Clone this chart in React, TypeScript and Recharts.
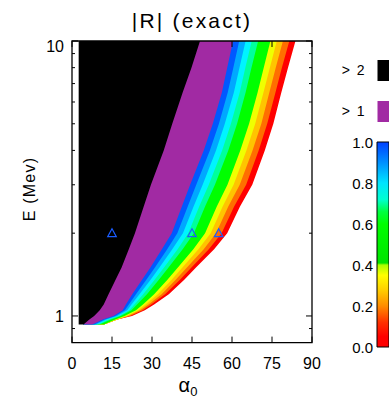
import React from 'react';
import { ComposedChart, Area, XAxis, YAxis, Scatter, ReferenceArea, BarChart, Bar } from 'recharts';

// Energy rows (MeV) at which contour positions were read
const energy = [0.93, 0.97, 1.0, 1.05, 1.1, 1.2, 1.35, 1.5, 1.75, 2.0, 2.5, 3.0, 4.0, 5.0, 6.5, 8.0, 10];
// pitch angle (deg) where |R| crosses each level, per energy row
const alphaR2 = [4.3, 6.5, 8.3, 10.4, 11.9, 13.7, 16.3, 18.6, 21.3, 23.6, 26.9, 29.6, 34.4, 37.6, 41.5, 44.8, 48.0];
const alphaR1 = [7.6, 11.5, 15.5, 19.0, 20.2, 22.6, 26.2, 29.4, 33.7, 37.4, 41.2, 44.3, 49.4, 52.8, 56.2, 58.2, 60.4];
const alphaR09 = [8.3, 12.2, 16.2, 19.8, 21.3, 24.0, 27.8, 31.1, 35.7, 39.5, 43.4, 46.6, 51.7, 55.1, 58.4, 60.5, 62.7];
const alphaR08 = [9.0, 12.9, 16.9, 20.7, 22.3, 25.3, 29.4, 32.8, 37.6, 41.6, 45.6, 49.0, 54.0, 57.3, 60.7, 62.8, 65.1];
const alphaR07 = [9.6, 13.8, 17.6, 21.5, 23.4, 26.7, 30.9, 34.5, 39.6, 43.6, 47.7, 51.3, 56.3, 59.6, 62.9, 65.0, 67.4];
const alphaR06 = [10.3, 14.6, 18.3, 22.3, 24.4, 28.1, 32.5, 36.2, 41.5, 45.7, 49.9, 53.6, 58.6, 61.9, 65.1, 67.3, 69.8];
const alphaR04 = [12.0, 16.2, 19.7, 24.0, 26.6, 30.8, 35.7, 39.7, 45.5, 49.9, 54.3, 58.3, 63.1, 66.4, 69.6, 71.9, 74.4];
const alphaR03 = [12.0, 17.0, 20.4, 24.8, 27.6, 32.2, 37.3, 41.4, 47.4, 52.0, 56.5, 60.6, 65.4, 68.7, 71.8, 74.2, 76.8];
const alphaR02 = [12.0, 17.0, 21.1, 25.6, 28.7, 33.6, 38.8, 43.1, 49.4, 54.0, 58.6, 62.9, 67.7, 71.0, 74.0, 76.4, 79.1];
const alphaR01 = [12.0, 17.0, 21.8, 26.5, 29.7, 34.9, 40.4, 44.8, 51.3, 56.1, 60.8, 65.3, 70.0, 73.2, 76.3, 78.7, 81.5];
const alphaR0 = [12.0, 17.0, 22.5, 27.3, 30.8, 36.3, 42.0, 46.5, 53.3, 58.2, 63.0, 67.6, 72.3, 75.5, 78.5, 81.0, 83.8];
const alphaStart = 2.5;
const energyTop = 10;

// marked points
const markerAlpha = [15, 45, 55];
const markerEnergy = [2, 2, 2];

// ticks
const xTicks = [0, 15, 30, 45, 60, 75, 90];
const yMajorTicks = [1, 10];
const yMinorTicks = [0.9, 2, 3, 4, 5, 6, 7, 8, 9];
const colorbarTicks = [0, 0.2, 0.4, 0.6, 0.8, 1.0];
const legendLabels = ['> 2', '> 1'];
const legendColors = ['#000000', '#a12aa3'];

const FONT = '"Liberation Sans", Arial, Helvetica, sans-serif';

// contour regions, widest first so narrower ones are painted over them
const regions = [
  { key: 'r0', alpha: alphaR0, color: '#ff0000' },
  { key: 'r01', alpha: alphaR01, color: '#ff6e00' },
  { key: 'r02', alpha: alphaR02, color: '#ffc400' },
  { key: 'r03', alpha: alphaR03, color: '#f0ff00' },
  { key: 'r04', alpha: alphaR04, color: '#00ff00' },
  { key: 'r06', alpha: alphaR06, color: '#00ff9c' },
  { key: 'r07', alpha: alphaR07, color: '#00f4ff' },
  { key: 'r08', alpha: alphaR08, color: '#00a8ff' },
  { key: 'r09', alpha: alphaR09, color: '#0058ff' },
  { key: 'r1', alpha: alphaR1, color: '#a12aa3' },
  { key: 'r2', alpha: alphaR2, color: '#000000' },
];

// only the outermost-left (black) region starts at alphaStart; the others start
// under the black region so their left edges stay hidden
const regionData = regions.map((r) => [
  { a: r.key === 'r2' ? alphaStart : alphaR2[0], E: energy[0] },
  ...energy.map((E, i) => ({ a: r.alpha[i], E })),
]);

const markers = markerAlpha.map((a, i) => ({ a, E: markerEnergy[i] }));

const yTicks = [...yMinorTicks, ...yMajorTicks].sort((a, b) => a - b);

const BottomTick = (p: any) => {
  const { x, y, payload } = p;
  return (
    <g>
      <line x1={x} x2={x} y1={y} y2={y - 6} stroke="#000" strokeWidth={1} />
      <text x={x} y={y + 26} textAnchor="middle" fontSize={16} fontFamily={FONT} fill="#000">
        {payload.value}
      </text>
    </g>
  );
};

const TopTick = (p: any) => {
  const { x, y } = p;
  return <line x1={x} x2={x} y1={y} y2={y + 6} stroke="#000" strokeWidth={1} />;
};

const LeftTick = (p: any) => {
  const { x, y, payload } = p;
  const major = yMajorTicks.includes(payload.value);
  return (
    <g>
      <line x1={x} x2={x + (major ? 6 : 3)} y1={y} y2={y} stroke="#000" strokeWidth={1} />
      {major && (
        <text
          x={x - 8}
          y={payload.value === 10 ? y + 11 : y + 6}
          textAnchor="end"
          fontSize={16}
          fontFamily={FONT}
          fill="#000"
        >
          {payload.value}
        </text>
      )}
    </g>
  );
};

const RightTick = (p: any) => {
  const { x, y, payload } = p;
  const major = yMajorTicks.includes(payload.value);
  return <line x1={x} x2={x - (major ? 6 : 3)} y1={y} y2={y} stroke="#000" strokeWidth={1} />;
};

const Triangle = (p: any) => {
  const { cx, cy } = p;
  if (cx == null || cy == null) return null;
  return (
    <path
      d={`M${cx},${cy - 4.5} L${cx + 4.3},${cy + 3.5} L${cx - 4.3},${cy + 3.5} Z`}
      fill="none"
      stroke="#1a5cff"
      strokeWidth={1.2}
    />
  );
};

const CbTick = (p: any) => {
  const { x, y, payload } = p;
  return (
    <text x={x - 4} y={y + 5.5} textAnchor="end" fontSize={15} fontFamily={FONT} fill="#000">
      {Number(payload.value).toFixed(1)}
    </text>
  );
};

const cbStops = [
  { o: 0, c: '#0040ff' },
  { o: 0.1, c: '#0090ff' },
  { o: 0.2, c: '#00e4ff' },
  { o: 0.28, c: '#00ffd0' },
  { o: 0.34, c: '#00ff40' },
  { o: 0.4, c: '#00ff00' },
  { o: 0.59, c: '#00e400' },
  { o: 0.6, c: '#a8ff00' },
  { o: 0.65, c: '#ffff00' },
  { o: 0.72, c: '#ffd000' },
  { o: 0.8, c: '#ff8c00' },
  { o: 0.88, c: '#ff3000' },
  { o: 0.95, c: '#ff0000' },
  { o: 1, c: '#ff0000' },
];

export default function App() {
  return (
    <div style={{ position: 'absolute', left: 0, top: 0, width: 389, height: 398, overflow: 'hidden', background: '#fff' }}>
      <div style={{ position: 'absolute', left: 0, top: 0 }}>
        <ComposedChart
          width={389}
          height={398}
          margin={{ top: 40, right: 76, bottom: 54.4, left: 71 }}
          style={{ fontFamily: FONT }}
        >
          <XAxis
            xAxisId="b"
            type="number"
            dataKey="a"
            domain={[0, 90]}
            ticks={xTicks}
            interval={0}
            allowDataOverflow
            axisLine={false}
            tickLine={false}
            tickSize={0}
            tickMargin={0}
            height={1}
            tick={<BottomTick />}
          />
          <XAxis
            xAxisId="t"
            orientation="top"
            type="number"
            dataKey="a"
            domain={[0, 90]}
            ticks={xTicks}
            interval={0}
            allowDataOverflow
            axisLine={false}
            tickLine={false}
            tickSize={0}
            tickMargin={0}
            height={1}
            tick={<TopTick />}
          />
          <YAxis
            yAxisId="l"
            type="number"
            dataKey="E"
            scale="log"
            domain={[0.8, 10]}
            ticks={yTicks}
            interval={0}
            allowDataOverflow
            axisLine={false}
            tickLine={false}
            tickSize={0}
            tickMargin={0}
            width={1}
            tick={<LeftTick />}
          />
          <YAxis
            yAxisId="r"
            orientation="right"
            type="number"
            dataKey="E"
            scale="log"
            domain={[0.8, 10]}
            ticks={yTicks}
            interval={0}
            allowDataOverflow
            axisLine={false}
            tickLine={false}
            tickSize={0}
            tickMargin={0}
            width={1}
            tick={<RightTick />}
          />
          {regions.map((r, i) => (
            <Area
              key={r.key}
              xAxisId="b"
              yAxisId="l"
              data={regionData[i]}
              dataKey="E"
              type="linear"
              stroke="none"
              fill={r.color}
              fillOpacity={1}
              baseValue={energyTop}
              isAnimationActive={false}
              dot={false}
              activeDot={false}
            />
          ))}
          <Scatter
            xAxisId="b"
            yAxisId="l"
            data={markers}
            dataKey="E"
            shape={<Triangle />}
            isAnimationActive={false}
          />
          <ReferenceArea
            xAxisId="b"
            yAxisId="l"
            x1={0}
            x2={90}
            y1={0.8}
            y2={10}
            fill="none"
            fillOpacity={0}
            stroke="#000"
            strokeWidth={1.3}
            ifOverflow="visible"
          />
        </ComposedChart>
      </div>
      <div style={{ position: 'absolute', left: 330, top: 0 }}>
        <BarChart
          width={59}
          height={398}
          data={[{ name: 'cb', v: 1 }]}
          margin={{ top: 142, right: 0, bottom: 51, left: 0 }}
          barCategoryGap={0}
        >
          <defs>
            <linearGradient id="cbGrad" x1="0" y1="0" x2="0" y2="1">
              {cbStops.map((s) => (
                <stop key={s.o} offset={s.o} stopColor={s.c} />
              ))}
            </linearGradient>
          </defs>
          <XAxis dataKey="name" hide />
          <YAxis
            type="number"
            domain={[0, 1]}
            ticks={colorbarTicks}
            interval={0}
            width={47}
            axisLine={false}
            tickLine={false}
            tickSize={0}
            tickMargin={0}
            tick={<CbTick />}
          />
          <Bar dataKey="v" fill="url(#cbGrad)" stroke="#000" strokeWidth={1} isAnimationActive={false} />
        </BarChart>
      </div>
      <svg width={389} height={398} style={{ position: 'absolute', left: 0, top: 0, pointerEvents: 'none' }}>
        <text x={192} y={28} textAnchor="middle" fontSize={21} letterSpacing={2.2} fontFamily={FONT} fill="#000">
          |R| (exact)
        </text>
        <text
          x={0}
          y={0}
          transform="translate(35,189) rotate(-90)"
          textAnchor="middle"
          fontSize={16}
          letterSpacing={1.2}
          fontFamily={FONT}
          fill="#000"
        >
          E (Mev)
        </text>
        <text x={188} y={392} textAnchor="middle" fontSize={20} fontFamily={FONT} fill="#000">
          α<tspan fontSize={13} dy={4}>0</tspan>
        </text>
        {legendLabels.map((t, i) => (
          <g key={t}>
            <text x={366} y={75 + i * 41} textAnchor="end" fontSize={14} letterSpacing={1.5} fontFamily={FONT} fill="#000">
              {t}
            </text>
            <rect x={377.5} y={60 + i * 41} width={14} height={21} fill={legendColors[i]} />
          </g>
        ))}
      </svg>
    </div>
  );
}
